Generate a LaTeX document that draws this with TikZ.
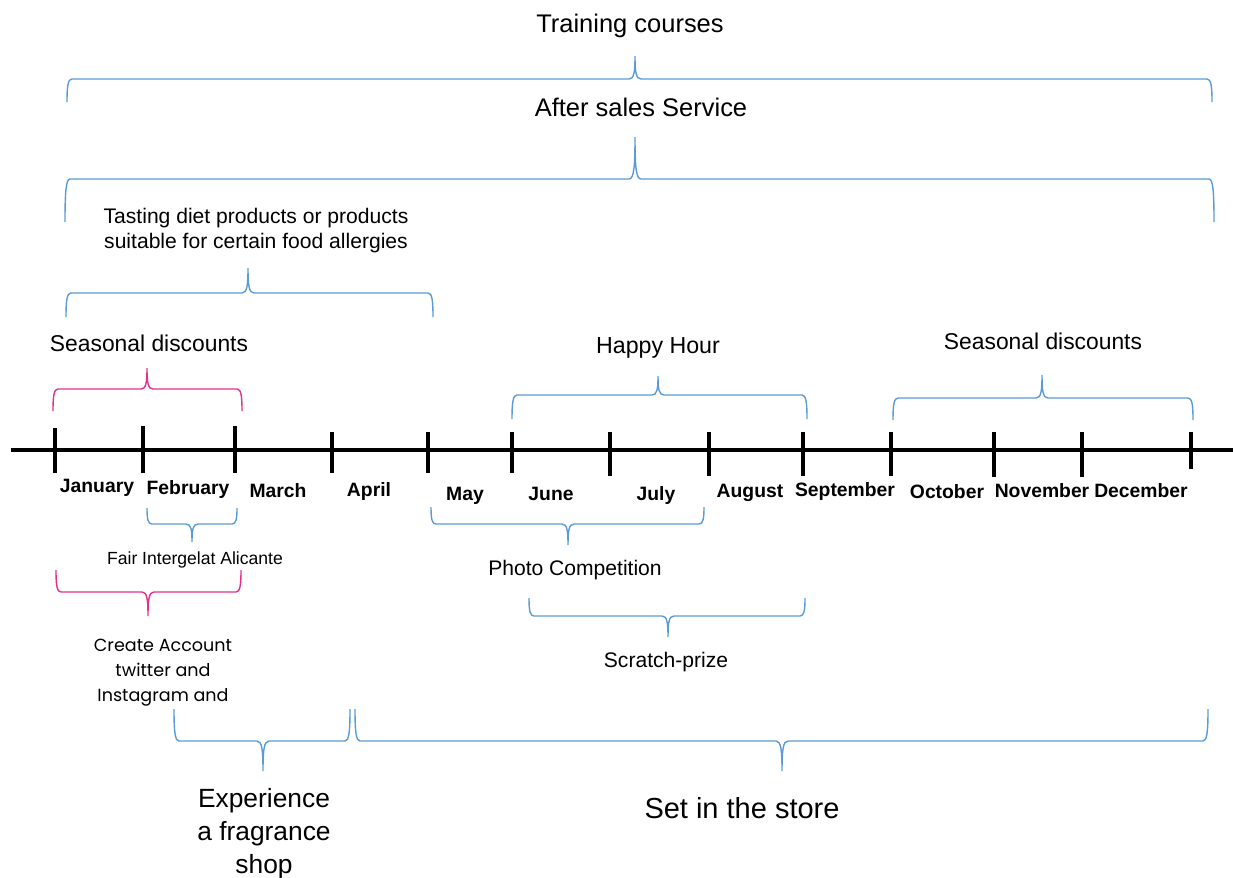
\documentclass[tikz,border=0pt]{standalone}
\usepackage{fontspec}
\setmainfont{Liberation Sans}
\newfontfamily\gothicfont{Poppins}
\usepackage{tikz}
\definecolor{braceblue}{RGB}{91,155,213}
\definecolor{bracepink}{RGB}{228,48,140}
\tikzset{brace/.style = {draw = braceblue, line width = 0.8pt},
  pinkbrace/.style = {brace, draw = bracepink},
  timeline/.style = {line width = 2.4pt},
  month/.style = {anchor = base, font = \bfseries\fontsize{11}{13}\selectfont},
  txt/.style = {anchor = base, align = center, inner sep = 0}}
% brace with curled ends: left x, right x, tip x, bar y, end y, tip y
\newcommand{\wordbrace}[7][]{%
  \draw[brace, #1] (#2, #6) .. controls (#2, {#5 + 0.3*(#6 - #5)}) and (#2 + 1, #5) .. (#2 + 5, #5)
    -- (#4 - 6, #5) .. controls (#4 - 1, #5) and (#4, {#5 + 0.3*(#7 - #5)}) .. (#4, #7)
    .. controls (#4, {#5 + 0.3*(#7 - #5)}) and (#4 + 1, #5) .. (#4 + 6, #5)
    -- (#3 - 5, #5) .. controls (#3 - 1, #5) and (#3, {#5 + 0.3*(#6 - #5)}) .. (#3, #6);}

\begin{document}
\begin{tikzpicture}[x = 0.02cm, y = -0.02cm]
      \useasboundingbox (0, 0) rectangle (1233, 877);

      % the year
      \draw[timeline] (11, 450) -- (1233, 450);
      \draw[timeline] (55, 428) -- (55, 473) (143, 426) -- (143, 473)
        (235, 426) -- (235, 473) (332, 432) -- (332, 473)
        (428, 432) -- (428, 473) (512, 432) -- (512, 473)
        (610, 432) -- (610, 476) (709, 432) -- (709, 476)
        (803, 432) -- (803, 476) (891, 432) -- (891, 476)
        (994, 432) -- (994, 477) (1082, 432) -- (1082, 477)
        (1191, 432) -- (1191, 469);

      \node [month] (jan) at (97, 492) {January};
      \node [month] (feb) at (188, 494) {February};
      \node [month] (mar) at (278, 497) {March};
      \node [month] (apr) at (369, 496) {April};
      \node [month] (may) at (465, 500) {May};
      \node [month] (jun) at (551, 500) {June};
      \node [month] (jul) at (656, 500) {July};
      \node [month] (aug) at (750, 497) {August};
      \node [month] (sep) at (845, 496) {September};
      \node [month] (oct) at (947, 498) {October};
      \node [month] (nov) at (1042, 497) {November};
      \node [month] (dec) at (1141, 497) {December};

      % above the line
      \node [txt, font = \fontsize{14.5}{17}\selectfont] (training) at (630, 32) {Training courses};
      \wordbrace{67}{1212}{635}{79}{102}{56}
      \node [txt, font = \fontsize{14.5}{17}\selectfont] (aftersales) at (641, 116) {After sales Service};
      \wordbrace{65}{1214}{635}{179}{222}{137}
      \node [txt, font = \fontsize{12}{14.2}\selectfont] (tasting) at (256, 248)
        {Tasting diet products or products\\suitable for certain food allergies};
      \wordbrace{66}{433}{248}{293}{317}{268}
      \node [txt, font = \fontsize{13}{15}\selectfont] (seasonA) at (149, 351) {Seasonal discounts};
      \wordbrace[pinkbrace]{53}{242}{147}{389}{411}{368}
      \node [txt, font = \fontsize{13.2}{15}\selectfont] (happy) at (658, 353) {Happy Hour};
      \wordbrace{512}{807}{658}{395}{419}{376}
      \node [txt, font = \fontsize{13}{15}\selectfont] (seasonB) at (1043, 349) {Seasonal discounts};
      \wordbrace{893}{1193}{1042}{398}{420}{375}

      % below the line
      \wordbrace{147}{237}{192}{524}{508}{542}
      \node [txt, font = \fontsize{10}{12}\selectfont] (fair) at (195, 564) {Fair Intergelat Alicante};
      \wordbrace[pinkbrace]{56}{241}{148}{592}{570}{616}
      \node [txt, font = \gothicfont\fontsize{10}{14.2}\selectfont] (create) at (163, 701)
        {Create Account\\twitter and\\Instagram and};
      \wordbrace{431}{704}{568}{524}{507}{545}
      \node [txt, font = \fontsize{12}{14}\selectfont] (photo) at (575, 575) {Photo Competition};
      \wordbrace{529}{805}{668}{616}{598}{637}
      \node [txt, font = \fontsize{12}{14}\selectfont] (scratch) at (666, 667) {Scratch-prize};
      \wordbrace{174}{350}{263}{741}{709}{771}
      \node [txt, font = \fontsize{15}{18.7}\selectfont] (experience) at (264, 873)
        {Experience\\a fragrance\\shop};
      \wordbrace{355}{1208}{782}{741}{709}{771}
      \node [txt, font = \fontsize{16.5}{19}\selectfont] (store) at (742, 818) {Set in the store};
    \end{tikzpicture}
\end{document}
